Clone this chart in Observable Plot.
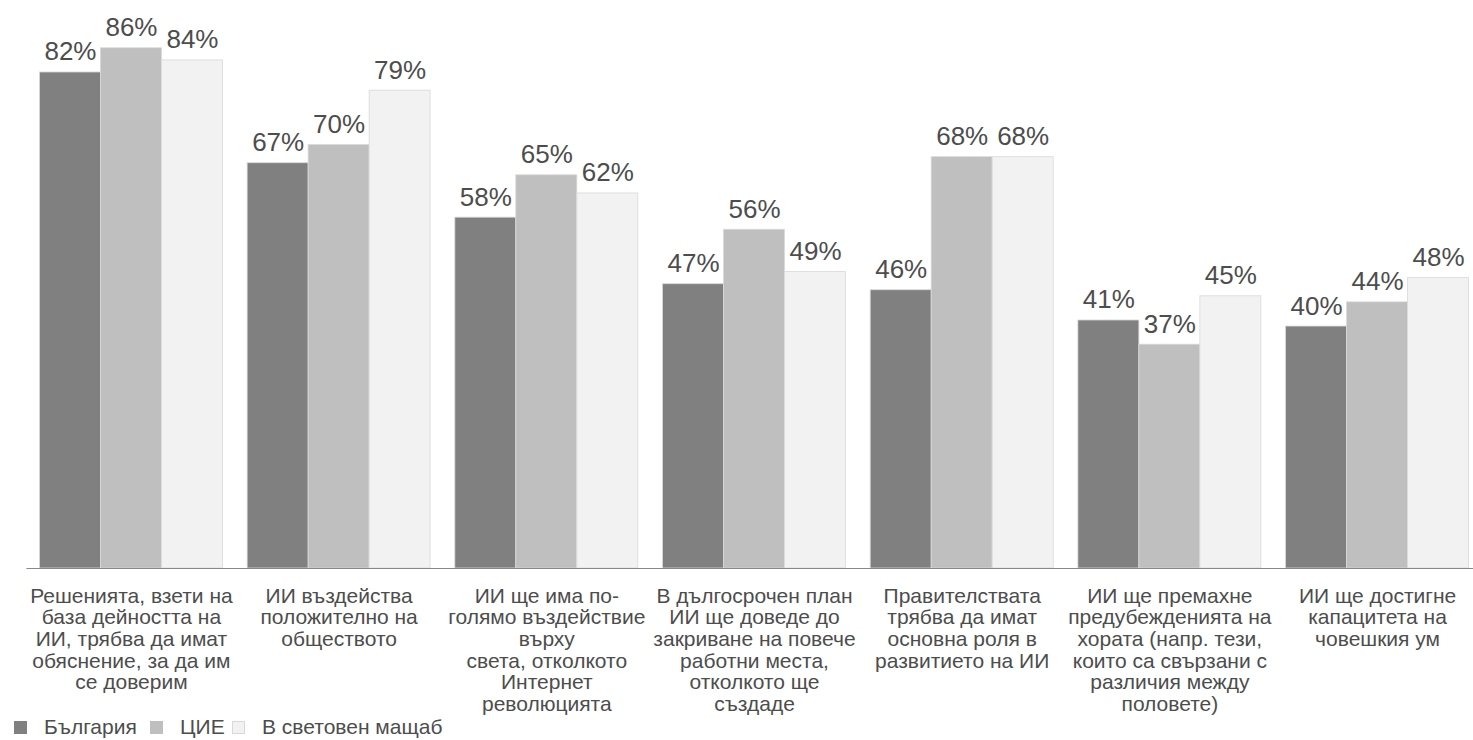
<!DOCTYPE html>
<html>
<head>
<meta charset="utf-8">
<script src="https://cdn.jsdelivr.net/npm/d3@7"></script>
<script src="https://cdn.jsdelivr.net/npm/@observablehq/plot@0.6"></script>
<style>
  html, body { margin: 0; padding: 0; background: #fff; }
  body { font-family: "Liberation Sans", Arial, sans-serif; width: 1473px; height: 740px; overflow: hidden; }
  #legend { position: relative; height: 25px; font-size: 21px; color: #4d4d4d; }
  .item { position: absolute; top: 0px; display: flex; align-items: center; }
  .sw { width: 13px; height: 13px; box-sizing: border-box; border: 1px solid #d9d9d9; margin-right: 17px; }
</style>
</head>
<body>
<div id="chart"></div>
<div id="legend"></div>
<script>
const categories = [
  "Решенията, взети на\nбаза дейността на\nИИ, трябва да имат\nобяснение, за да им\nсе доверим",
  "ИИ въздейства\nположително на\nобществото",
  "ИИ ще има по-\nголямо въздействие\nвърху\nсвета, отколкото\nИнтернет\nреволюцията",
  "В дългосрочен план\nИИ ще доведе до\nзакриване на повече\nработни места,\nотколкото ще\nсъздаде",
  "Правителствата\nтрябва да имат\nосновна роля в\nразвитието на ИИ",
  "ИИ ще премахне\nпредубежденията на\nхората (напр. тези,\nкоито са свързани с\nразличия между\nполовете)",
  "ИИ ще достигне\nкапацитета на\nчовешкия ум"
];
const series = ["България", "ЦИЕ", "В световен мащаб"];
const bulgaria = [82, 67, 58, 47, 46, 41, 40];
const cee = [86, 70, 65, 56, 68, 37, 44];
const worldwide = [84, 79, 62, 49, 68, 45, 48];
const colors = ["#808080", "#bfbfbf", "#f2f2f2"];

const seriesValues = [bulgaria, cee, worldwide];
const data = categories.flatMap((c, i) =>
  series.map((s, j) => ({cat: c, series: s, value: seriesValues[j][i]}))
);

const chart = Plot.plot({
  width: 1473,
  height: 715,
  marginLeft: 27,
  marginRight: 0,
  marginTop: 0,
  marginBottom: 147,
  style: {fontFamily: "'Liberation Sans', Arial, sans-serif", background: "#fff"},
  fx: {domain: categories, range: [27, 1481], paddingInner: 0.119, paddingOuter: 0.06, round: false, label: null},
  x: {domain: series, padding: 0, round: false, axis: null},
  y: {domain: [0, 93.9], axis: null},
  color: {domain: series, range: colors},
  marks: [
    Plot.barY(data, {fx: "cat", x: "series", y: "value", fill: "series", stroke: "#d9d9d9", strokeWidth: 0.8}),
    Plot.text(data, {fx: "cat", x: "series", y: "value", text: d => d.value + "%", lineAnchor: "bottom", dy: -12, fontSize: 26, fill: "#4d4d4d"}),
    Plot.ruleY([0], {stroke: "#898989", strokeWidth: 1.2, insetLeft: -13, insetRight: -13}),
    Plot.axisFx({anchor: "bottom", tickSize: 0, tickPadding: 19, fontSize: 21, lineHeight: 1.03, label: null, fill: "#4d4d4d"})
  ]
});
document.getElementById("chart").appendChild(chart);

const legend = document.getElementById("legend");
const lx = [14, 150, 232];
series.forEach((s, j) => {
  const it = document.createElement("div");
  it.className = "item";
  it.style.left = lx[j] + "px";
  const sw = document.createElement("div");
  sw.className = "sw";
  sw.style.background = colors[j];
  if (j < 2) sw.style.borderColor = colors[j];
  const t = document.createElement("span");
  t.textContent = s;
  it.appendChild(sw);
  it.appendChild(t);
  legend.appendChild(it);
});
</script>
</body>
</html>
